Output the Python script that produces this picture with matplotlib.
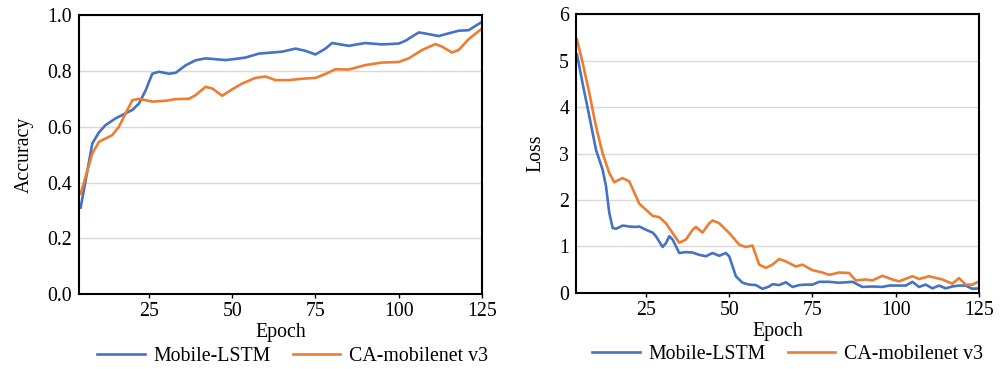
import matplotlib.pyplot as plt

plt.rcParams['font.family'] = ['Liberation Serif', 'DejaVu Serif']

# accuracy curves (epoch, value)
acc_lstm_x = [4.5, 8, 10, 12, 15, 18, 20, 22, 24, 26, 28, 31, 33, 36, 39, 42, 45, 48, 51, 54,
              58, 62, 65, 69, 72, 75, 78, 80, 85, 90, 95, 100, 102, 106, 108, 112, 116, 118, 121, 125]
acc_lstm_y = [0.31, 0.54, 0.58, 0.606, 0.63, 0.648, 0.66, 0.683, 0.73, 0.79, 0.797, 0.79, 0.793,
              0.82, 0.838, 0.845, 0.842, 0.839, 0.843, 0.848, 0.862, 0.866, 0.869, 0.88, 0.872,
              0.859, 0.88, 0.90, 0.89, 0.90, 0.895, 0.898, 0.908, 0.938, 0.934, 0.925, 0.938,
              0.944, 0.946, 0.976]
acc_ca_x = [4.5, 8, 10, 12, 14, 16, 18, 20, 22, 24, 26, 30, 33, 37, 39, 42, 44, 47, 50, 53, 57,
            60, 63, 67, 71, 75, 78, 81, 85, 90, 95, 100, 103, 107, 111, 113, 116, 118, 121, 125]
acc_ca_y = [0.36, 0.504, 0.546, 0.558, 0.57, 0.60, 0.648, 0.695, 0.70, 0.695, 0.69, 0.693, 0.699,
            0.70, 0.713, 0.743, 0.737, 0.711, 0.734, 0.755, 0.775, 0.78, 0.767, 0.767, 0.772,
            0.775, 0.789, 0.806, 0.805, 0.821, 0.83, 0.832, 0.845, 0.875, 0.896, 0.887, 0.866,
            0.875, 0.914, 0.952]

# loss curves (epoch, value)
loss_lstm_x = [4.3, 6, 8, 10, 12, 13, 14, 15, 16, 18, 20, 22, 23, 25, 27, 28, 30, 31, 32, 33,
               35, 37, 39, 41, 43, 45, 47, 49, 50, 52, 54, 56, 58, 60, 62, 63, 65, 67, 69, 71,
               73, 75, 77, 80, 83, 87, 90, 93, 96, 98, 101, 103, 105, 107, 109, 111, 113, 115,
               117, 119, 121, 123, 125]
loss_lstm_y = [5.13, 4.5, 3.8, 3.08, 2.65, 2.3, 1.72, 1.4, 1.38, 1.45, 1.43, 1.42, 1.43, 1.36,
               1.3, 1.22, 0.99, 1.07, 1.22, 1.15, 0.86, 0.88, 0.87, 0.82, 0.79, 0.86, 0.8, 0.86,
               0.79, 0.36, 0.22, 0.18, 0.17, 0.09, 0.14, 0.19, 0.17, 0.23, 0.13, 0.17, 0.18, 0.18,
               0.24, 0.24, 0.22, 0.24, 0.13, 0.14, 0.13, 0.16, 0.16, 0.16, 0.24, 0.13, 0.18, 0.1,
               0.16, 0.1, 0.14, 0.16, 0.16, 0.09, 0.1]
loss_ca_x = [4.3, 6, 8, 10, 12, 14, 15.5, 17, 18, 20, 22, 23, 25, 27, 29, 31, 33, 35, 37, 39,
             40, 42, 44, 45, 47, 50, 53, 55, 57, 59, 61, 63, 65, 67, 70, 72, 75, 78, 80, 83, 86,
             88, 91, 93, 96, 99, 101, 105, 107, 110, 114, 117, 119, 121, 123, 125]
loss_ca_y = [5.45, 4.95, 4.3, 3.58, 3.0, 2.58, 2.38, 2.44, 2.47, 2.4, 2.08, 1.92, 1.79, 1.66,
             1.63, 1.5, 1.29, 1.08, 1.15, 1.36, 1.42, 1.3, 1.5, 1.56, 1.5, 1.29, 1.04, 0.99,
             1.02, 0.61, 0.54, 0.61, 0.73, 0.68, 0.57, 0.61, 0.49, 0.44, 0.39, 0.44, 0.43, 0.27,
             0.29, 0.27, 0.37, 0.29, 0.25, 0.36, 0.3, 0.36, 0.29, 0.2, 0.32, 0.18, 0.18, 0.25]

series_names = ['Mobile-LSTM', 'CA-mobilenet v3']
colors = ['#4472C4', '#ED7D31']
x_ticks = [25, 50, 75, 100, 125]
FS = 14.3

fig = plt.figure(figsize=(10, 3.69), dpi=100)
ax1 = fig.add_axes([0.079, 0.203, 0.403, 0.756])
ax2 = fig.add_axes([0.576, 0.206, 0.403, 0.756])


def style_axis(ax, ylim, yticks, ylabel, yfmt):
    ax.set_xlim(4, 125)
    ax.set_ylim(*ylim)
    ax.set_xticks(x_ticks)
    ax.set_yticks(yticks)
    ax.set_yticklabels([yfmt.format(v) for v in yticks])
    ax.grid(axis='y', color='#d9d9d9', linewidth=1.0)
    ax.set_axisbelow(True)
    for sp in ax.spines.values():
        sp.set_linewidth(1.5)
        sp.set_color('black')
    ax.tick_params(axis='y', length=0, labelsize=FS, pad=5)
    ax.tick_params(axis='x', length=3, width=1, labelsize=FS, pad=3)
    ax.set_xlabel('Epoch', fontsize=FS, labelpad=1)
    ax.set_ylabel(ylabel, fontsize=FS, labelpad=10)


ax1.plot(acc_lstm_x, acc_lstm_y, color=colors[0], lw=1.9, label=series_names[0])
ax1.plot(acc_ca_x, acc_ca_y, color=colors[1], lw=1.9, label=series_names[1])
style_axis(ax1, (0, 1.0), [0, 0.2, 0.4, 0.6, 0.8, 1.0], 'Accuracy', '{:.1f}')

ax2.plot(loss_lstm_x, loss_lstm_y, color=colors[0], lw=1.9, label=series_names[0])
ax2.plot(loss_ca_x, loss_ca_y, color=colors[1], lw=1.9, label=series_names[1])
style_axis(ax2, (0, 6), [0, 1, 2, 3, 4, 5, 6], 'Loss', '{:d}')

for ax, cx in ((ax1, 0.53), (ax2, 0.525)):
    ax.legend(loc='center', bbox_to_anchor=(cx, -0.222), ncol=2, frameon=False,
              fontsize=FS, handlelength=2.4, columnspacing=1.1, handletextpad=0.45)

fig.savefig('out.png', dpi=100)
